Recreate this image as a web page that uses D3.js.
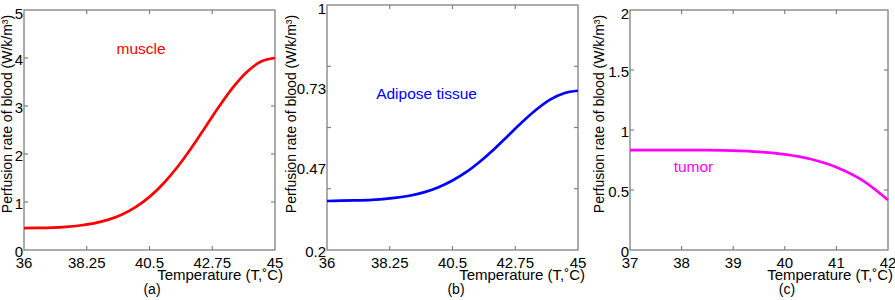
<!DOCTYPE html>
<html>
<head>
<meta charset="utf-8">
<script src="https://d3js.org/d3.v7.min.js"></script>
<style>
  body { margin: 0; background: #fff; }
  svg { font-family: "Liberation Sans", Arial, sans-serif; }
  .frame { fill: none; stroke: #808080; stroke-width: 1.3; }
  .tick-mark { stroke: #808080; stroke-width: 1.2; }
  .tick-label { font-size: 15px; fill: #000; }
  .x-title { font-size: 15px; fill: #000; }
  .y-title { font-size: 14px; fill: #000; }
  .sub { font-size: 14px; fill: #000; }
  .curve-label { font-size: 15.5px; }
</style>
</head>
<body>
<div id="chart"></div>
<script>
// ---- data ----
var muscleT = [36, 36.5, 37, 37.5, 38, 38.5, 39, 39.5, 40, 40.5, 41, 41.5, 42, 42.5, 43, 43.5, 44, 44.5, 45];
var muscleW = [0.454, 0.459, 0.467, 0.483, 0.51, 0.555, 0.627, 0.735, 0.892, 1.107, 1.386, 1.729, 2.126, 2.559, 2.994, 3.393, 3.716, 3.926, 4.0];

var adiposeT = [36, 36.5, 37, 37.5, 38, 38.5, 39, 39.5, 40, 40.5, 41, 41.5, 42, 42.5, 43, 43.5, 44, 44.5, 45];
var adiposeW = [0.360, 0.361, 0.362, 0.363, 0.366, 0.371, 0.378, 0.389, 0.405, 0.427, 0.455, 0.490, 0.530, 0.574, 0.618, 0.658, 0.691, 0.712, 0.72];

var tumorT = [37, 37.5, 38, 38.5, 39, 39.5, 40, 40.5, 41, 41.5, 42];
var tumorW = [0.833, 0.833, 0.833, 0.832, 0.828, 0.818, 0.797, 0.758, 0.690, 0.582, 0.416];

// axis ticks
var muscleXTicks = [36, 38.25, 40.5, 42.75, 45];
var muscleYTicks = [0, 1, 2, 3, 4, 5];
var adiposeXTicks = [36, 38.25, 40.5, 42.75, 45];
var adiposeYMarks = [0.2, 0.4, 0.6, 0.8, 1];
var adiposeYLabels = [0.2, 0.47, 0.73, 1];
var tumorXTicks = [37, 38, 39, 40, 41, 42];
var tumorYTicks = [0, 0.5, 1, 1.5, 2];

var panels = [
  {T: muscleT, W: muscleW, xDom: [36, 45], yDom: [0, 5], xTicks: muscleXTicks,
   yMarks: muscleYTicks, yLabels: muscleYTicks, name: "muscle", nameAt: [40.2, 4.08],
   color: "#ff0000", sub: "(a)",
   box: {l: 24, r: 275, t: 10, b: 250}, subX: 152, titleX: 283, ytX: 12},
  {T: adiposeT, W: adiposeW, xDom: [36, 45], yDom: [0.2, 1], xTicks: adiposeXTicks,
   yMarks: adiposeYMarks, yLabels: adiposeYLabels, name: "Adipose tissue", nameAt: [39.57, 0.693],
   color: "#0000ff", sub: "(b)",
   box: {l: 327, r: 578, t: 5, b: 250}, subX: 456, titleX: 585, ytX: 296},
  {T: tumorT, W: tumorW, xDom: [37, 42], yDom: [0, 2], xTicks: tumorXTicks,
   yMarks: tumorYTicks, yLabels: tumorYTicks, name: "tumor", nameAt: [38.23, 0.65],
   color: "#ff00ff", sub: "(c)",
   box: {l: 630, r: 888, t: 10, b: 250}, subX: 787, titleX: 893, ytX: 604}
];

var svg = d3.select("#chart").append("svg")
    .attr("width", 895)
    .attr("height", 300);

var tickLen = 4;

panels.forEach(function(p) {
  var b = p.box;
  var x = d3.scaleLinear().domain(p.xDom).range([b.l, b.r]);
  var y = d3.scaleLinear().domain(p.yDom).range([b.b, b.t]);
  var g = svg.append("g");

  // inward ticks on all four sides (matlab box style)
  g.selectAll(".xt").data(p.xTicks.slice(1, -1)).enter().append("line")
    .attr("class", "tick-mark")
    .attr("x1", d => x(d)).attr("x2", d => x(d))
    .attr("y1", b.b).attr("y2", b.b - tickLen);
  g.selectAll(".xt2").data(p.xTicks.slice(1, -1)).enter().append("line")
    .attr("class", "tick-mark")
    .attr("x1", d => x(d)).attr("x2", d => x(d))
    .attr("y1", b.t).attr("y2", b.t + tickLen);
  g.selectAll(".yt").data(p.yMarks.slice(1, -1)).enter().append("line")
    .attr("class", "tick-mark")
    .attr("x1", b.l).attr("x2", b.l + tickLen)
    .attr("y1", d => y(d)).attr("y2", d => y(d));
  g.selectAll(".yt2").data(p.yMarks.slice(1, -1)).enter().append("line")
    .attr("class", "tick-mark")
    .attr("x1", b.r).attr("x2", b.r - tickLen)
    .attr("y1", d => y(d)).attr("y2", d => y(d));

  g.append("rect").attr("class", "frame")
    .attr("x", b.l).attr("y", b.t)
    .attr("width", b.r - b.l).attr("height", b.b - b.t);

  // tick labels
  g.selectAll(".xl").data(p.xTicks).enter().append("text")
    .attr("class", "tick-label")
    .attr("x", d => x(d)).attr("y", b.b + 18)
    .attr("text-anchor", "middle")
    .text(d => d);
  g.selectAll(".yl").data(p.yLabels).enter().append("text")
    .attr("class", "tick-label")
    .attr("x", b.l - 1).attr("y", d => y(d))
    .attr("dy", (d, i) => i === p.yLabels.length - 1 ? "0.6em" : "0.45em")
    .attr("text-anchor", "end")
    .text(d => d);

  // curve
  var line = d3.line()
    .x((d, i) => x(p.T[i]))
    .y(d => y(d))
    .curve(d3.curveMonotoneX);
  g.append("path")
    .datum(p.W)
    .attr("d", line)
    .attr("fill", "none")
    .attr("stroke", p.color)
    .attr("stroke-width", 2.7)
    .attr("stroke-linejoin", "round");

  g.append("text").attr("class", "curve-label")
    .attr("x", x(p.nameAt[0])).attr("y", y(p.nameAt[1]))
    .attr("text-anchor", "middle")
    .attr("fill", p.color)
    .text(p.name);

  // titles
  g.append("text").attr("class", "x-title")
    .attr("x", p.titleX).attr("y", 280)
    .attr("text-anchor", "end")
    .text("Temperature (T,\u02DAC)");
  g.append("text").attr("class", "y-title")
    .attr("transform", "translate(" + p.ytX + ",114) rotate(-90)")
    .attr("text-anchor", "middle")
    .text("Perfusion rate of blood (W/k/m\u00B3)");
  g.append("text").attr("class", "sub")
    .attr("x", p.subX).attr("y", 294)
    .attr("text-anchor", "middle")
    .text(p.sub);
});
</script>
</body>
</html>
